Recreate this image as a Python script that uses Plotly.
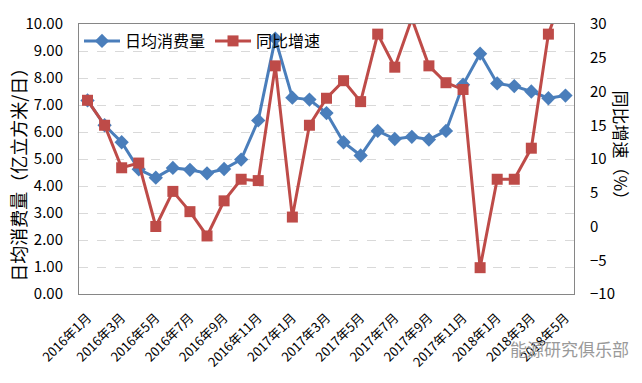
import plotly.graph_objects as go

months = ["2016年1月", "2016年2月", "2016年3月", "2016年4月", "2016年5月", "2016年6月",
          "2016年7月", "2016年8月", "2016年9月", "2016年10月", "2016年11月", "2016年12月",
          "2017年1月", "2017年2月", "2017年3月", "2017年4月", "2017年5月", "2017年6月",
          "2017年7月", "2017年8月", "2017年9月", "2017年10月", "2017年11月", "2017年12月",
          "2018年1月", "2018年2月", "2018年3月", "2018年4月", "2018年5月"]

daily_consumption = [7.17, 6.25, 5.62, 4.62, 4.31, 4.67, 4.60, 4.47, 4.63, 4.98, 6.43, 9.46,
                     7.27, 7.20, 6.70, 5.62, 5.13, 6.04, 5.74, 5.82, 5.72, 6.04, 7.75, 8.90,
                     7.80, 7.70, 7.50, 7.25, 7.35]

yoy_growth = [18.7, 15.0, 8.7, 9.4, 0.0, 5.2, 2.2, -1.4, 3.8, 7.0, 6.8, 23.8,
              1.4, 15.0, 19.0, 21.6, 18.5, 28.5, 23.6, 30.8, 23.8, 21.3, 20.3, -6.1,
              7.0, 7.0, 11.6, 28.5, 35.5]

idx = list(range(len(months)))
label_idx = idx[::2]
label_text = [months[i] for i in label_idx]
boundary_ticks = [i - 0.5 for i in label_idx]

FONT = "Noto Sans CJK SC"
BLUE = "#4A7EBB"
RED = "#BE4B48"
AXIS = "#868686"

fig = go.Figure()
fig.add_trace(go.Scatter(
    x=idx, y=daily_consumption, name="日均消费量", mode="lines+markers",
    line=dict(color=BLUE, width=3), marker=dict(symbol="diamond", size=11, color=BLUE),
    yaxis="y"))
fig.add_trace(go.Scatter(
    x=idx, y=yoy_growth, name="同比增速", mode="lines+markers",
    line=dict(color=RED, width=3), marker=dict(symbol="square", size=11, color=RED),
    yaxis="y2"))

fig.update_layout(
    width=642, height=383,
    margin=dict(l=79, r=68, t=24, b=83),
    paper_bgcolor="white", plot_bgcolor="white",
    font=dict(family=FONT, size=14, color="#000"),
    showlegend=True,
    legend=dict(orientation="h", x=0.0, y=1.0, xanchor="left", yanchor="top",
                bgcolor="rgba(0,0,0,0)", font=dict(size=16, family=FONT),
                itemwidth=36, tracegroupgap=0),
    xaxis=dict(range=[-0.5, len(months) - 0.5], tickmode="array", tickvals=label_idx,
               ticktext=label_text, tickangle=-45, ticks="", showgrid=False,
               showline=True, linecolor=AXIS, linewidth=1, mirror=True,
               ticklabelstandoff=10,
               tickfont=dict(size=13, family=FONT), zeroline=False),
    xaxis2=dict(range=[-0.5, len(months) - 0.5], overlaying="x", anchor="y",
                tickmode="array", tickvals=boundary_ticks, ticks="outside", ticklen=5,
                tickcolor=AXIS, showticklabels=False, showgrid=False, showline=False,
                zeroline=False),
    yaxis=dict(range=[0, 10], dtick=1, tickformat=".2f", showgrid=True,
               gridcolor="#D9D9D9", griddash="dash", gridwidth=1,
               showline=True, linecolor=AXIS, linewidth=1, zeroline=False,
               ticklabelstandoff=12,
               tickfont=dict(size=15, family=FONT), ticks=""),
    yaxis2=dict(range=[-10, 30], dtick=5, overlaying="y", side="right",
                showgrid=False, showline=True, linecolor=AXIS, linewidth=1,
                ticklabelstandoff=12,
                zeroline=False, tickfont=dict(size=15, family=FONT), ticks=""),
)

fig.add_annotation(text="日均消费量（亿立方米/日）", xref="paper", yref="paper",
                   x=-0.125, y=0.457, xanchor="center", yanchor="middle",
                   textangle=-90, showarrow=False, font=dict(size=18, family=FONT, color="#000"))
fig.add_annotation(text="同比增速（%）", xref="paper", yref="paper",
                   x=1.095, y=0.535, xanchor="center", yanchor="middle",
                   textangle=90, showarrow=False, font=dict(size=17, family=FONT, color="#000"))
fig.add_annotation(text="能源研究俱乐部", xref="paper", yref="paper",
                   x=0.99, y=-0.2, xanchor="center", yanchor="middle",
                   showarrow=False, font=dict(size=17, family=FONT, color="#9a9a9a"))

fig.write_html("out.html", config={"displayModeBar": False},
               post_script="document.body.style.margin='0';")
